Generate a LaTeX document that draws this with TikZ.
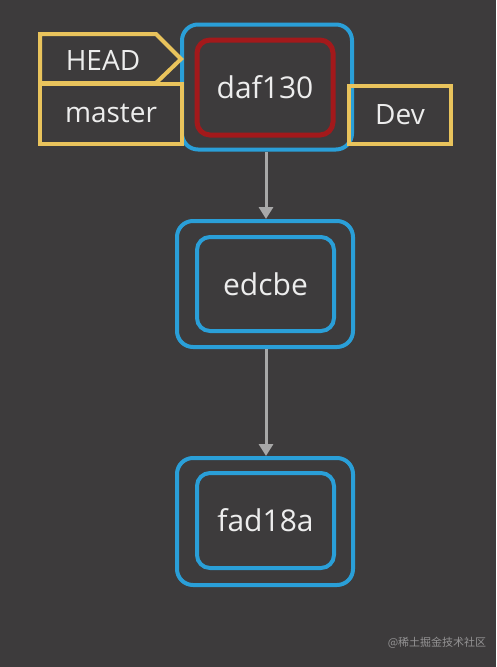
\documentclass[tikz,border=0pt]{standalone}
\usepackage{fontspec}
\setmainfont{Open Sans}
\newfontfamily\cjk{Noto Sans CJK SC}
\usetikzlibrary{arrows.meta}
\definecolor{bg}{HTML}{3D3B3C}
\definecolor{cblue}{HTML}{2A9FD8}
\definecolor{cred}{HTML}{A3191B}
\definecolor{cyel}{HTML}{E9C35C}
\definecolor{ctext}{HTML}{EDEDED}
\definecolor{carrow}{HTML}{A8A8A8}
\tikzset{
  outerbox/.style={draw=cblue,line width=4pt,rounded corners=16pt,fill=bg,inner sep=0pt},
  innerbox/.style={draw=cblue,line width=4pt,rounded corners=13pt,inner sep=0pt,
    font=\fontsize{30}{34}\selectfont,text=ctext},
  headbox/.style={draw=cred,line width=5pt,rounded corners=13pt,inner sep=0pt,
    font=\fontsize{30}{34}\selectfont,text=ctext},
  tagbox/.style={draw=cyel,line width=4pt,inner sep=0pt,
    font=\fontsize{28}{32}\selectfont,text=ctext},
  tagtext/.style={inner sep=0pt,font=\fontsize{28}{32}\selectfont,text=ctext},
  link/.style={draw=carrow,line width=3pt,-{Triangle[width=14pt,length=12pt]}}
}
\begin{document}
\begin{tikzpicture}[x=1pt,y=-1pt]
\fill[bg] (0,0) rectangle (496,667);
\useasboundingbox (0,0) rectangle (496,667);
% commit 1
\node[outerbox,minimum width=170pt,minimum height=125pt] (o1) at (267,87) {};
\node[headbox,minimum width=136pt,minimum height=95pt] (c1) at (265,87.5) {daf130};
% tags
\node[tagbox,minimum width=142pt,minimum height=60pt] (master) at (111,113.5) {master};
\draw[cyel,line width=4pt,line join=miter]
  (40,34) -- (156,34) -- (181,59) -- (156,83) -- (40,83) -- cycle;
\node[tagtext] (head) at (103,60) {HEAD};
\node[tagbox,minimum width=102pt,minimum height=58pt] (dev) at (400,115) {Dev};
% commit 2
\node[outerbox,minimum width=176pt,minimum height=126pt] (o2) at (265,284) {};
\node[innerbox,minimum width=137pt,minimum height=94pt] (c2) at (265.5,284) {edcbe};
% commit 3
\node[outerbox,minimum width=176pt,minimum height=127pt] (o3) at (265,521.5) {};
\node[innerbox,minimum width=137pt,minimum height=95pt] (c3) at (265.5,520.5) {fad18a};
% links
\draw[link] ([xshift=-1pt]o1.south) -- ([xshift=-1pt]o1.south |- o2.north);
\draw[link] ([xshift=1pt]o2.south) -- ([xshift=1pt]o2.south |- o3.north);
% watermark
\node[text=white!45!bg,font=\cjk\fontsize{11}{13}\selectfont] (wm) at (437,643) {@稀土掘金技术社区};
\end{tikzpicture}
\end{document}
